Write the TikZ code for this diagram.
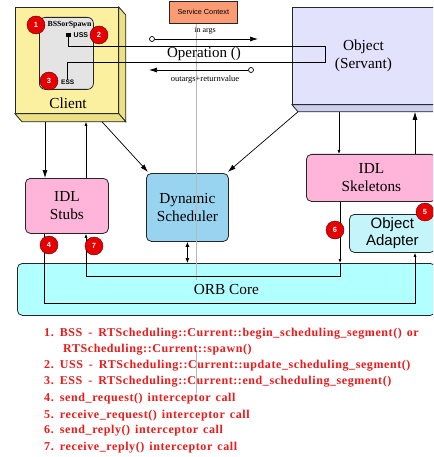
\documentclass[tikz,border=0pt]{standalone}
\usepackage{fontspec}
\setmainfont{Liberation Serif}
\newfontfamily\sansf{Liberation Sans}
\newfontfamily\listf{Liberation Serif}[LetterSpace=4.9]
\usetikzlibrary{arrows.meta,calc}
\definecolor{clientY}{RGB}{250,240,160}
\definecolor{clientS}{RGB}{236,224,135}
\definecolor{objL}{RGB}{226,226,252}
\definecolor{objS}{RGB}{205,205,238}
\definecolor{svcC}{RGB}{250,155,115}
\definecolor{idlpink}{RGB}{255,180,218}
\definecolor{schedB}{RGB}{152,212,240}
\definecolor{adaptC}{RGB}{195,245,250}
\definecolor{orbC}{RGB}{178,255,255}
\definecolor{innerG}{RGB}{228,228,228}
\definecolor{listR}{RGB}{238,25,25}
\definecolor{badgeR}{RGB}{232,0,0}
\newcommand{\wsp}{\hspace{6pt}}
\newcommand{\lsp}{\spaceskip=5pt\relax}
\begin{document}
\begin{tikzpicture}[x=1pt,y=-1pt,
  box/.style={draw=black!85, line width=0.8pt, rounded corners=5pt, anchor=north west, inner sep=0pt, align=center},
  face/.style={draw=black!85, line width=0.8pt},
  lbl/.style={font=\fontsize{15.3}{18}\selectfont, align=center},
  badge/.style={circle, fill=badgeR, draw=red!35!black, line width=0.4pt, minimum size=18pt, inner sep=0pt, text=white, font=\sansf\bfseries\fontsize{7.5}{7.5}\selectfont},
  opencirc/.style={circle, draw=black, fill=white, line width=0.7pt, minimum size=5pt, inner sep=0pt},
  conn/.style={draw=black, line width=0.7pt},
  bigarr/.style={-{Latex[length=8pt,width=5pt]}},
  smallarr/.style={-{Latex[length=4pt,width=3pt]}},
  listline/.style={anchor=base west, inner sep=0pt, text=listR, font=\listf\bfseries\fontsize{12}{14}\selectfont},
]
\clip (0,0) rectangle (433,457);
\fill[white] (0,0) rectangle (433,457);

% ---- Client (3D box)
\node[face, fill=clientY, anchor=north west, minimum width=103pt, minimum height=106pt, inner sep=0pt] (client) at (15,7) {};
\filldraw[face, fill=clientS] (client.north east) -- ++(7,8) -- ($(client.south east)+(7,8)$) -- (client.south east) -- cycle;
\filldraw[face, fill=clientS] (client.south west) -- (client.south east) -- ++(7,8) -- ($(client.south west)+(7,8)$) -- cycle;
\node[box, fill=innerG, minimum width=54pt, minimum height=72pt, rounded corners=6pt] (inner) at (39,17) {};
\node[lbl] (clientlbl) at (68,103) {Client};

% ---- Object (Servant)
\node[face, fill=objL, anchor=north west, minimum width=142pt, minimum height=97pt, inner sep=0pt, lbl] (obj) at (292,7) {Object\\(Servant)};
\filldraw[face, fill=objS] (obj.south west) -- ++(6,7) -- ($(obj.south east)+(6,7)$) -- (obj.south east) -- cycle;

% ---- Service Context
\node[draw=black!85, line width=0.7pt, fill=svcC, anchor=north west, minimum width=68pt, minimum height=22pt, inner sep=0pt, font=\sansf\fontsize{7.3}{8}\selectfont] (svc) at (169,1) {Service Context};

% ---- lower boxes
\node[box, fill=idlpink, minimum width=83pt, minimum height=55pt, lbl] (stubs) at (25,178) {IDL\\Stubs};
\node[box, fill=schedB, minimum width=82pt, minimum height=68pt, lbl] (sched) at (146,173) {Dynamic\\Scheduler};
\node[box, fill=idlpink, minimum width=130pt, minimum height=47pt, lbl] (skel) at (306,154) {IDL\\Skeletons};
\node[box, fill=adaptC, minimum width=86pt, minimum height=38pt, font=\sansf\fontsize{15}{17}\selectfont] (adapt) at (349,214) {Object\\Adapter};
\node[box, fill=orbC, minimum width=418pt, minimum height=52pt, lbl] (orb) at (17,263) {ORB Core};

% ---- grey guide line
\coordinate (g1) at (196,280);
\coordinate (g2) at (196,350);
\coordinate (g3) at (196,393);
\draw[gray!55, line width=0.5pt] (g1 |- svc.south) -- (g1);
\draw[gray!55, line width=0.5pt] (g2) -- (g3);

% ---- operation path and inner labels
\node[fill=black, minimum size=4.5pt, inner sep=0pt] (ussq) at (68.5,35) {};
\node[font=\sansf\bfseries\fontsize{7}{7}\selectfont, anchor=west, inner sep=0pt] (uss) at (73.5,35.5) {USS};
\node[font=\bfseries\fontsize{7.8}{8}\selectfont, inner sep=0pt] (bss) at (69.5,24.5) {BSSorSpawn};
\node[font=\sansf\bfseries\fontsize{6.5}{7}\selectfont, anchor=west, inner sep=0pt] (ess) at (61,82.5) {ESS};
\coordinate (opR) at (325,46);
\draw[conn] (ussq.south) |- (opR) |- (ess.north |- 0,62) -- (ess.north);
\node[font=\fontsize{15}{18}\selectfont] (op) at (204,54) {Operation ()};

% ---- args arrows
\node[opencirc] (iac) at (152,39) {};
\coordinate (iae) at (258,39);
\draw[conn, bigarr] (iac) -- (iae);
\node[font=\fontsize{8}{8}\selectfont, inner sep=0pt] (ial) at (205,31) {in args};
\node[opencirc] (oac) at (251,70) {};
\coordinate (oae) at (149,70);
\draw[conn, bigarr] (oac) -- (oae);
\node[font=\fontsize{8.5}{9}\selectfont, inner sep=0pt] (oal) at (205,79) {outargs+returnvalue};

% ---- connectors
\draw[conn, bigarr] ($(client.south west)+(30,8)$) -- ([xshift=20pt]stubs.north west);
\draw[conn, smallarr] ([xshift=61pt]stubs.north west) -- ($(client.south west)+(71,8)$);
\draw[conn, bigarr] ($(client.south west)+(87,8)$) -- ([shift={(2,-1)}]sched.north west);
\draw[conn, bigarr] ($(obj.south west)+(6,7)$) -- ([shift={(-1,-1)}]sched.north east);
\draw[conn, smallarr] ($(obj.south west)+(47,7)$) -- ([xshift=33pt]skel.north west);
\draw[conn, bigarr] ([xshift=109pt]skel.north west) -- ($(obj.south west)+(123,7)$);
\draw[conn, {Latex[length=5pt,width=4pt]}-{Latex[length=5pt,width=4pt]}] (sched.south) -- (sched.south |- orb.north);

\coordinate (s4) at ([xshift=19pt]stubs.south west);
\coordinate (a5) at ([xshift=66pt]adapt.south west);
\draw[conn, smallarr] (s4) -- (s4 |- 0,303) -| (a5);
\coordinate (k6) at ([xshift=34pt]skel.south west);
\coordinate (s7) at ([xshift=61pt]stubs.south west);
\draw[conn, smallarr] (k6) -- (k6 |- orb.north);
\draw[conn, smallarr] (k6 |- orb.north) -- (k6 |- 0,276) -| (s7);

% ---- badges
\node[badge] (b1) at (36,25) {1};
\node[badge] (b2) at (99,35) {2};
\node[badge] (b3) at (49,81) {3};
\node[badge] (b4) at (49,245) {4};
\node[badge] (b5) at (425,212) {5};
\node[badge] (b6) at (335,230) {6};
\node[badge] (b7) at (94,246) {7};

% ---- legend
\node[listline] (l1) at (44,336.5) {\lsp 1.\wsp BSS\wsp -\wsp RTScheduling::Current::begin\_scheduling\_segment() or};
\node[listline] (l1b) at (63,352.5) {\lsp RTScheduling::Current::spawn()};
\node[listline] (l2) at (44,368.5) {\lsp 2.\wsp USS\wsp -\wsp RTScheduling::Current::update\_scheduling\_segment()};
\node[listline] (l3) at (44,384.5) {\lsp 3.\wsp ESS\wsp -\wsp RTScheduling::Current::end\_scheduling\_segment()};
\node[listline] (l4) at (44,401.5) {\lsp 4. send\_request() interceptor call};
\node[listline] (l5) at (44,418.5) {\lsp 5. receive\_request() interceptor call};
\node[listline] (l6) at (44,433.5) {\lsp 6. send\_reply() interceptor call};
\node[listline] (l7) at (44,450.5) {\lsp 7. receive\_reply() interceptor call};
\end{tikzpicture}
\end{document}
